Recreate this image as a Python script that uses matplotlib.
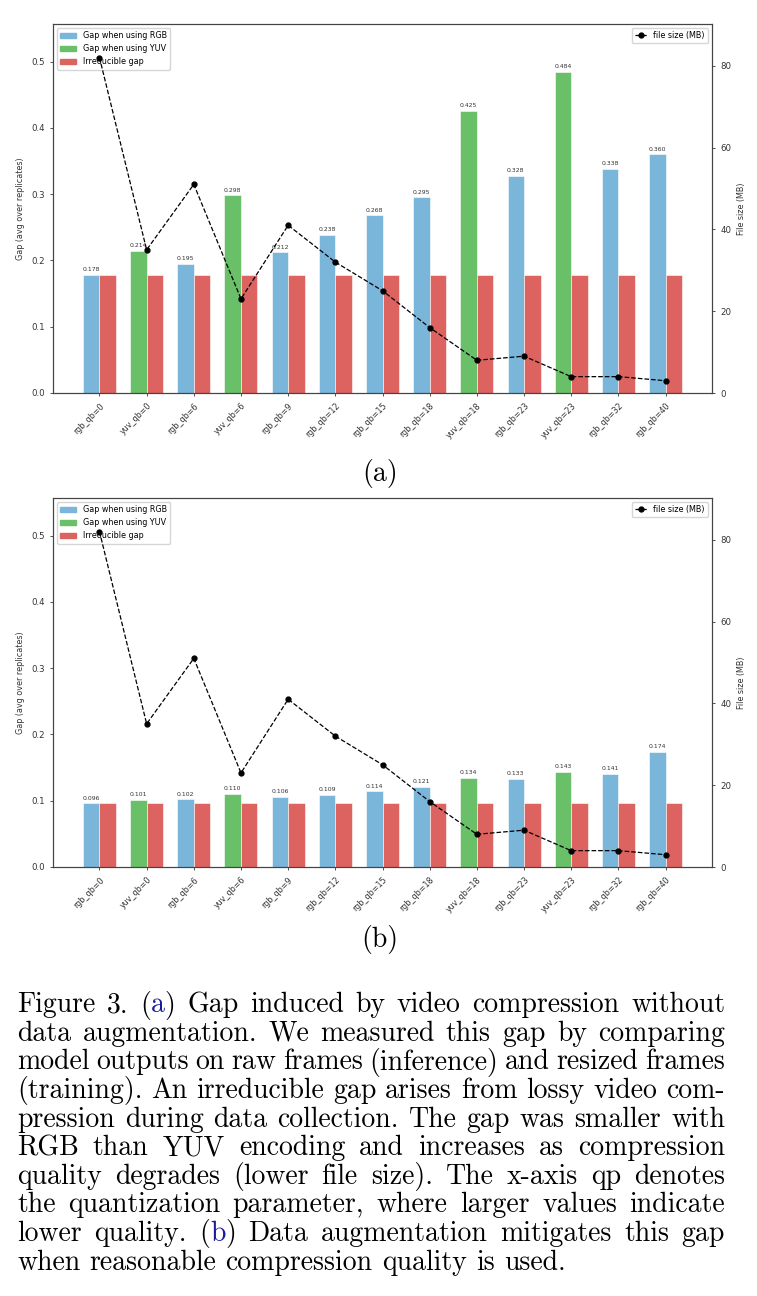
import matplotlib
matplotlib.use("Agg")
import matplotlib.pyplot as plt
import numpy as np

labels = ["rgb_qb=0", "yuv_qb=0", "rgb_qb=6", "yuv_qb=6", "rgb_qb=9", "rgb_qb=12", "rgb_qb=15",
          "rgb_qb=18", "yuv_qb=18", "rgb_qb=23", "yuv_qb=23", "rgb_qb=32", "rgb_qb=40"]
gap_a = [0.178, 0.214, 0.195, 0.298, 0.212, 0.238, 0.268, 0.295, 0.425, 0.328, 0.484, 0.338, 0.360]
gap_b = [0.096, 0.101, 0.102, 0.110, 0.106, 0.109, 0.114, 0.121, 0.134, 0.133, 0.143, 0.141, 0.174]
irreducible_a = 0.178
irreducible_b = 0.096
file_size = [82, 35, 51, 23, 41, 32, 25, 16, 8, 9, 4, 4, 3]

BLUE = "#7ab5da"
GREEN = "#6abf69"
RED = "#dd6361"
W = 757
H = 1296

fig = plt.figure(figsize=(W / 100, H / 100), dpi=100)


def panel(rect, gaps, irreducible):
    ax = fig.add_axes(rect)
    x = np.arange(len(labels))
    w = 0.35
    cols = [BLUE if l.startswith("rgb") else GREEN for l in labels]
    bars = ax.bar(x - w / 2, gaps, w, color=cols, edgecolor="white", linewidth=0.4)
    ax.bar(x + w / 2, [irreducible] * len(labels), w, color=RED, edgecolor="white", linewidth=0.4)
    ax.bar_label(bars, fmt="%.3f", padding=2, fontsize=4.4, color="#333333")
    ax.set_ylim(0, 0.484 * 1.15)
    ax.set_xticks(x)
    ax.set_xticklabels(labels, rotation=45, ha="right", fontsize=5.8, rotation_mode="anchor")
    ax.set_ylabel("Gap (avg over replicates)", fontsize=5.8, color="#333333")
    ax.tick_params(axis="y", labelsize=6.2, length=2.5, width=0.6, colors="#333333")
    ax.tick_params(axis="x", length=2.5, width=0.6, colors="#333333")
    h = [plt.Rectangle((0, 0), 1, 1, color=c) for c in (BLUE, GREEN, RED)]
    ax.legend(h, ["Gap when using RGB", "Gap when using YUV", "Irreducible gap"],
              loc="upper left", fontsize=5.8, framealpha=0.8)

    ax2 = ax.twinx()
    ax2.plot(x, file_size, "k--o", markersize=3.5, linewidth=0.9, label="file size (MB)")
    ax2.set_ylim(0, max(file_size) * 1.1)
    ax2.set_ylabel("File size (MB)", fontsize=5.8, color="#333333")
    ax2.tick_params(axis="y", labelsize=6.2, length=2.5, width=0.6, colors="#333333")
    ax2.legend(loc="upper right", fontsize=5.8, handlelength=1.5)
    for a in (ax, ax2):
        for s in a.spines.values():
            s.set_linewidth(0.8)
            s.set_color("#444444")
    return ax


panel([53 / W, 1 - 393 / H, 659 / W, 369 / H], gap_a, irreducible_a)
panel([53 / W, 1 - 867 / H, 659 / W, 369 / H], gap_b, irreducible_b)

serif = ["cmr10", "DejaVu Serif"]
cap_size = 20
fig.text(380 / W, 1 - 473 / H, "(a)", fontsize=cap_size, family=serif, ha="center", va="center")
fig.text(380 / W, 1 - 940 / H, "(b)", fontsize=cap_size, family=serif, ha="center", va="center")

# caption, justified word by word
caption = [
    "Figure 3.  ( a ) Gap induced by video compression without",
    "data augmentation.  We measured this gap by comparing",
    "model outputs on raw frames (inference) and resized frames",
    "(training). An irreducible gap arises from lossy video com-",
    "pression during data collection. The gap was smaller with",
    "RGB than YUV encoding and increases as compression",
    "quality degrades (lower file size).  The x-axis qp denotes",
    "the quantization parameter, where larger values indicate",
    "lower quality.  ( b ) Data augmentation mitigates this gap",
    "when reasonable compression quality is used.",
]
link = "#1a1a9a"
r = fig.canvas.get_renderer()


def width(s):
    t = fig.text(0, 0, s, fontsize=cap_size, family=serif)
    bb = t.get_window_extent(r)
    t.remove()
    return bb.width


x0, x1 = 17, 725
y_first, step = 1005, 28.6
space = width("a a") - 2 * width("a")
for i, line in enumerate(caption):
    # glue "( a )" back into one word made of pieces
    raw = line.replace("( a )", "(\x01a\x01)").replace("( b )", "(\x01b\x01)").split()
    words = [w.split("\x01") for w in raw]
    ws = [[width(p) for p in w] for w in words]
    total = sum(sum(w) for w in ws)
    last = i == len(caption) - 1
    gap = space if last else (x1 - x0 - total) / (len(words) - 1)
    x = x0
    y = 1 - (y_first + i * step) / H
    for w, wl in zip(words, ws):
        for j, (p, pw) in enumerate(zip(w, wl)):
            c = link if (len(w) == 3 and j == 1) else "black"
            fig.text(x / W, y, p, fontsize=cap_size, family=serif, color=c, va="center")
            x += pw
        x += gap

fig.savefig("out.png", dpi=100)
